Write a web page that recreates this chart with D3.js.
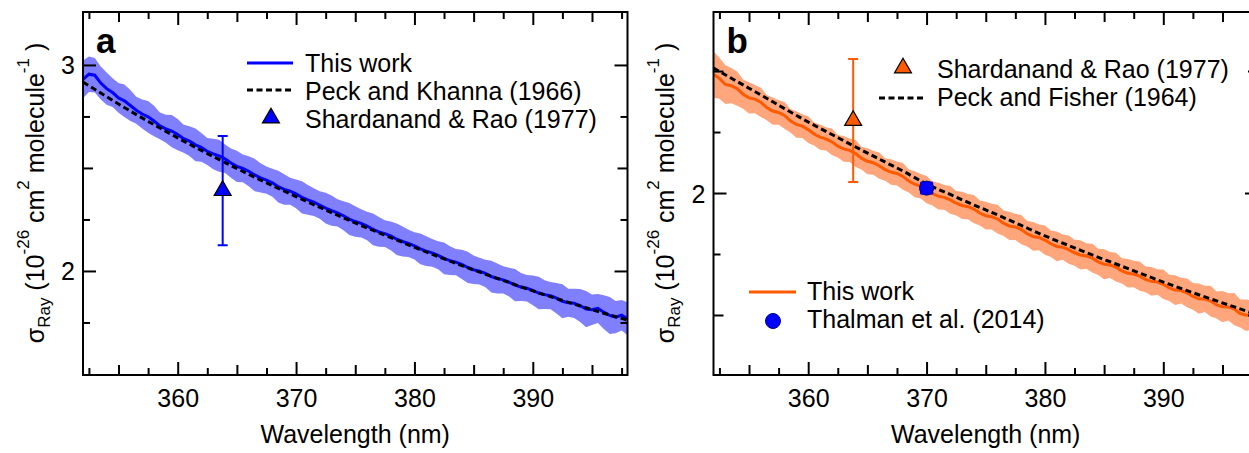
<!DOCTYPE html>
<meta charset="utf-8">
<title>Rayleigh scattering cross sections</title>
<script src="https://d3js.org/d3.v7.min.js"></script>
<style>
  body { margin: 0; background: #fff; }
  text { font-family: "Liberation Sans", Arial, sans-serif; fill: #000; }
</style>
<body>
<div id="chart"></div>
<script>

// wavelength grid of the measured spectra (nm)
var wl = [352,352.5,353,353.5,354,354.5,355,355.5,356,356.5,357,357.5,358,358.5,359,359.5,
          360,360.5,361,361.5,362,362.5,363,363.5,364,364.5,365,365.5,366,366.5,367,367.5,
          368,368.5,369,369.5,370,370.5,371,371.5,372,372.5,373,373.5,374,374.5,375,375.5,
          376,376.5,377,377.5,378,378.5,379,379.5,380,380.5,381,381.5,382,382.5,383,383.5,
          384,384.5,385,385.5,386,386.5,387,387.5,388,388.5,389,389.5,390,390.5,391,391.5,
          392,392.5,393,393.5,394,394.5,395,395.5,396,396.5,397,397.5,398];
// wavelength grid of the literature curves (nm)
var wlRef = [352,354,356,358,360,362,364,366,368,370,372,374,376,378,380,382,384,386,388,390,392,394,396,398];

// panel a: this work (blue) and its uncertainty
var aWork = [2.930,2.955,2.950,2.912,2.885,2.866,2.840,2.826,2.803,2.780,2.762,2.748,2.728,2.704,2.690,2.679,
             2.662,2.642,2.630,2.612,2.600,2.580,2.568,2.559,2.545,2.524,2.508,2.498,2.484,2.466,2.452,2.441,
             2.428,2.409,2.396,2.387,2.374,2.357,2.345,2.334,2.320,2.305,2.293,2.282,2.268,2.252,2.240,2.231,
             2.218,2.202,2.190,2.181,2.170,2.154,2.143,2.134,2.122,2.107,2.096,2.088,2.076,2.061,2.050,2.043,
             2.032,2.017,2.006,1.999,1.988,1.973,1.963,1.957,1.946,1.931,1.922,1.916,1.906,1.893,1.885,1.880,
             1.868,1.853,1.846,1.843,1.832,1.815,1.812,1.818,1.800,1.784,1.776,1.785,1.768];
var aErr = [0.092,0.086,0.084,0.080,0.078,0.070,0.072,0.079,0.075,0.066,
            0.070,0.077,0.074,0.065,0.068,0.078,0.076,0.068,0.072,0.079,
            0.070,0.066,0.074,0.078,0.069,0.071,0.076,0.067,0.073,0.079,
            0.071,0.066,0.068,0.077,0.074,0.066,0.070,0.078,0.072,0.067,
            0.067,0.075,0.073,0.066,0.070,0.078,0.074,0.068,0.069,0.077,
            0.072,0.065,0.070,0.076,0.073,0.066,0.066,0.075,0.072,0.067,
            0.068,0.077,0.070,0.064,0.071,0.076,0.069,0.065,0.067,0.077,
            0.073,0.066,0.070,0.078,0.068,0.064,0.072,0.079,0.070,0.066,
            0.074,0.082,0.068,0.071,0.080,0.088,0.074,0.070,0.082,0.090,
            0.078,0.074,0.080];
// Peck and Khanna (1966)
var aRef = [2.917,2.846,2.776,2.710,2.646,2.585,2.526,2.469,2.414,2.361,2.309,2.258,
            2.209,2.162,2.115,2.070,2.026,1.984,1.944,1.903,1.866,1.830,1.795,1.762];
// Shardanand & Rao (1977): wavelength, value, error
var aShard = [{wl: 363.8, v: 2.39, e: 0.265}];

// panel b: this work (orange) and its uncertainty
var bWork = [2.486,2.470,2.445,2.440,2.428,2.405,2.390,2.385,2.372,2.350,2.336,2.330,2.318,2.296,2.281,2.274,
             2.260,2.242,2.229,2.222,2.210,2.192,2.181,2.175,2.162,2.143,2.130,2.124,2.112,2.096,2.086,2.080,
             2.068,2.049,2.036,2.028,2.014,1.998,1.987,1.982,1.972,1.958,1.949,1.944,1.934,1.918,1.907,1.903,
             1.893,1.876,1.865,1.861,1.850,1.833,1.822,1.818,1.807,1.792,1.781,1.778,1.768,1.755,1.746,1.742,
             1.733,1.718,1.708,1.705,1.696,1.681,1.671,1.668,1.659,1.646,1.638,1.635,1.626,1.611,1.602,1.600,
             1.591,1.576,1.567,1.566,1.557,1.541,1.534,1.533,1.524,1.506,1.499,1.500,1.490];
var bErr = [0.095,0.084,0.080,0.072,0.070,0.060,0.064,0.058,0.060,0.052,
            0.056,0.050,0.055,0.048,0.054,0.049,0.055,0.047,0.052,0.048,
            0.054,0.046,0.053,0.048,0.055,0.047,0.053,0.049,0.054,0.046,
            0.052,0.049,0.055,0.047,0.053,0.050,0.056,0.049,0.055,0.051,
            0.057,0.050,0.056,0.052,0.058,0.051,0.057,0.053,0.059,0.052,
            0.058,0.054,0.060,0.052,0.059,0.053,0.060,0.054,0.061,0.052,
            0.058,0.053,0.060,0.052,0.059,0.054,0.061,0.053,0.059,0.052,
            0.058,0.054,0.060,0.053,0.059,0.052,0.060,0.054,0.061,0.053,
            0.059,0.055,0.062,0.054,0.063,0.055,0.064,0.056,0.066,0.057,
            0.065,0.058,0.064];
// Peck and Fisher (1964)
var bRef = [2.512,2.457,2.402,2.346,2.291,2.240,2.189,2.139,2.090,2.037,1.994,1.951,
            1.910,1.867,1.824,1.785,1.746,1.709,1.672,1.635,1.600,1.566,1.533,1.500];
var bShard = [{wl: 363.8, v: 2.297, e: 0.252}];
// Thalman et al. (2014)
var bThal = [{wl: 370.0, v: 2.020, e: 0.024, ex: 0.5}];

// ticks
var xTicks = [352.5,355,357.5,360,362.5,365,367.5,370,372.5,375,377.5,380,382.5,385,387.5,390,392.5,395,397.5];
var xLabels = [360,370,380,390];
var aYTicks = [1.75,2,2.25,2.5,2.75,3];
var aYLabels = [2,3];
var bYTicks = [1.5,1.75,2,2.25,2.5];
var bYLabels = [2];

var W = 1249, H = 453, top_ = 12, bottom = 375;
var svg = d3.select("#chart").append("svg")
    .attr("width", W).attr("height", H);

function tickLen(v, big, half) {
  if (Math.abs(v / big - Math.round(v / big)) < 1e-6) return 13;
  if (Math.abs(v / half - Math.round(v / half)) < 1e-6) return 10;
  return 7;
}

function panel(p) {
  var x = d3.scaleLinear().domain([352, 398]).range([p.left, p.right]);
  var y = d3.scaleLinear().domain(p.ydom).range([bottom, top_]);
  var g = svg.append("g");

  g.append("clipPath").attr("id", "clip" + p.id)
    .append("rect").attr("x", p.left).attr("y", top_)
    .attr("width", p.right - p.left).attr("height", bottom - top_);

  var plot = g.append("g").attr("clip-path", "url(#clip" + p.id + ")");

  // uncertainty band
  var band = d3.area()
      .x(function(d, i) { return x(wl[i]); })
      .y0(function(d, i) { return y(d - p.err[i]); })
      .y1(function(d, i) { return y(d + p.err[i]); });
  plot.append("path").datum(p.work)
    .attr("d", band).attr("fill", p.bandColor).attr("stroke", "none");

  // this work
  var line = d3.line()
      .x(function(d, i) { return x(wl[i]); })
      .y(function(d) { return y(d); });
  plot.append("path").datum(p.work)
    .attr("d", line).attr("fill", "none")
    .attr("stroke", p.color).attr("stroke-width", 3);

  // literature refractive-index curve
  var refLine = d3.line()
      .x(function(d, i) { return x(wlRef[i]); })
      .y(function(d) { return y(d); })
      .curve(d3.curveMonotoneX);
  plot.append("path").datum(p.ref)
    .attr("d", refLine).attr("fill", "none")
    .attr("stroke", "#000").attr("stroke-width", 3)
    .attr("stroke-dasharray", "6,3.5");

  // Shardanand & Rao point with error bar
  p.shard.forEach(function(d) {
    var px = x(d.wl);
    plot.append("line").attr("x1", px).attr("x2", px)
      .attr("y1", y(d.v - d.e)).attr("y2", y(d.v + d.e))
      .attr("stroke", p.shardColor).attr("stroke-width", 2);
    [d.v - d.e, d.v + d.e].forEach(function(v) {
      plot.append("line").attr("x1", px - 5).attr("x2", px + 5)
        .attr("y1", y(v)).attr("y2", y(v))
        .attr("stroke", p.shardColor).attr("stroke-width", 2);
    });
    plot.append("path")
      .attr("d", d3.symbol().type(d3.symbolTriangle).size(125))
      .attr("transform", "translate(" + px + "," + y(d.v) + ")")
      .attr("fill", p.shardColor).attr("stroke", "#000").attr("stroke-width", 1.2);
  });

  // Thalman point, error bars drawn as a small box behind the circle
  (p.thal || []).forEach(function(d) {
    var px = x(d.wl), py = y(d.v);
    var x0 = x(d.wl - d.ex), x1 = x(d.wl + d.ex), y0 = y(d.v - d.e), y1 = y(d.v + d.e);
    plot.append("path")
      .attr("d", "M" + x0 + "," + y0 + "H" + x1 + "M" + x0 + "," + y1 + "H" + x1 +
                 "M" + x0 + "," + y0 + "V" + y1 + "M" + x1 + "," + y0 + "V" + y1)
      .attr("stroke", "#0000ff").attr("stroke-width", 1.5).attr("fill", "none");
    plot.append("circle").attr("cx", px).attr("cy", py).attr("r", 7)
      .attr("fill", "#0000ff").attr("stroke", "#00007a").attr("stroke-width", 1);
  });

  // axes, ticks pointing inside on all four sides
  var fmtX = function(d) { return xLabels.indexOf(d) >= 0 ? d : ""; };
  var fmtY = function(d) { return p.yLabels.indexOf(d) >= 0 ? d : ""; };

  var xb = g.append("g").attr("transform", "translate(0," + bottom + ")")
    .call(d3.axisBottom(x).tickValues(xTicks).tickFormat(fmtX).tickSizeOuter(0).tickPadding(0));
  xb.selectAll(".tick line").attr("y2", function(d) { return -tickLen(d, 10, 5); });
  xb.selectAll(".tick text").attr("y", 32).attr("dy", 0);

  var xt = g.append("g").attr("transform", "translate(0," + top_ + ")")
    .call(d3.axisTop(x).tickValues(xTicks).tickFormat("").tickSizeOuter(0));
  xt.selectAll(".tick line").attr("y2", function(d) { return tickLen(d, 10, 5); });

  var yl = g.append("g").attr("transform", "translate(" + p.left + ",0)")
    .call(d3.axisLeft(y).tickValues(p.yTicks).tickFormat(fmtY).tickSizeOuter(0));
  yl.selectAll(".tick line").attr("x2", function(d) { return tickLen(d, 1, 0.5); });
  yl.selectAll(".tick text").attr("x", -8).attr("dy", "0.36em");

  var yr = g.append("g").attr("transform", "translate(" + p.right + ",0)")
    .call(d3.axisRight(y).tickValues(p.yTicks).tickFormat("").tickSizeOuter(0));
  yr.selectAll(".tick line").attr("x2", function(d) { return -tickLen(d, 1, 0.5); });

  g.selectAll(".domain").remove();
  g.selectAll(".tick line").attr("stroke", "#000").attr("stroke-width", 2);
  g.selectAll(".tick text").attr("font-size", 25)
    .attr("font-family", "'Liberation Sans', Arial, sans-serif").attr("fill", "#000");

  g.append("rect").attr("x", p.left).attr("y", top_)
    .attr("width", p.right - p.left).attr("height", bottom - top_)
    .attr("fill", "none").attr("stroke", "#000").attr("stroke-width", 2);

  // axis titles
  g.append("text")
    .attr("x", (p.left + p.right) / 2)
    .attr("y", 443).attr("text-anchor", "middle").attr("font-size", 25)
    .text("Wavelength (nm)");

  var yt = g.append("text")
    .attr("transform", "translate(" + p.ytx + ",193) rotate(-90)")
    .attr("text-anchor", "middle").attr("font-size", 25);
  yt.append("tspan").text("\u03c3");
  yt.append("tspan").attr("font-size", 17).attr("dy", 6).text("Ray");
  yt.append("tspan").attr("dy", -6).text(" (10");
  yt.append("tspan").attr("font-size", 17).attr("dy", -15).text("-26");
  yt.append("tspan").attr("dy", 15).text(" cm");
  yt.append("tspan").attr("font-size", 17).attr("dy", -15).text("2");
  yt.append("tspan").attr("dy", 15).text(" molecule");
  yt.append("tspan").attr("font-size", 17).attr("dy", -15).text("-1");
  yt.append("tspan").attr("dy", 15).text(" )");

  // panel letter
  g.append("text").attr("x", p.left + 13).attr("y", 53)
    .attr("font-size", 35).attr("font-weight", "bold").text(p.id);

  return g;
}

function legendLine(g, x0, x1, yy, color, dashed) {
  g.append("line").attr("x1", x0).attr("x2", x1).attr("y1", yy).attr("y2", yy)
    .attr("stroke", color).attr("stroke-width", 3)
    .attr("stroke-dasharray", dashed ? "6,3.5" : null);
}
function legendText(g, xx, yy, s) {
  g.append("text").attr("x", xx).attr("y", yy).attr("font-size", 25).text(s);
}
function legendTri(g, xx, yy, color) {
  g.append("path").attr("d", d3.symbol().type(d3.symbolTriangle).size(125))
    .attr("transform", "translate(" + xx + "," + yy + ")")
    .attr("fill", color).attr("stroke", "#000").attr("stroke-width", 1.2);
}

var ga = panel({
  id: "a", left: 83, right: 627.5, ydom: [1.495, 3.257],
  work: aWork, err: aErr, ref: aRef, shard: aShard,
  color: "#0000ff", bandColor: "#8080ff", shardColor: "#0000ff",
  yTicks: aYTicks, yLabels: aYLabels, ytx: 44
});
legendLine(ga, 247, 293, 63, "#0000ff", false);
legendText(ga, 305, 72, "This work");
legendLine(ga, 247, 293, 90, "#000", true);
legendText(ga, 305, 100, "Peck and Khanna (1966)");
legendTri(ga, 271, 118, "#0000ff");
legendText(ga, 305, 128, "Shardanand & Rao (1977)");

var gb = panel({
  id: "b", left: 713.5, right: 1258, ydom: [1.254, 2.742],
  work: bWork, err: bErr, ref: bRef, shard: bShard, thal: bThal,
  color: "#ff5a00", bandColor: "#ffa67c", shardColor: "#ff5a00",
  yTicks: bYTicks, yLabels: bYLabels, ytx: 674
});
legendTri(gb, 903, 68, "#ff5a00");
legendText(gb, 937, 78, "Shardanand & Rao (1977)");
legendLine(gb, 879, 923, 98, "#000", true);
legendText(gb, 937, 106, "Peck and Fisher (1964)");
legendLine(gb, 749, 796, 292, "#ff5a00", false);
legendText(gb, 807, 300, "This work");
gb.append("circle").attr("cx", 773).attr("cy", 321).attr("r", 7.5)
  .attr("fill", "#0000ff").attr("stroke", "#00007a").attr("stroke-width", 1);
legendText(gb, 807, 328, "Thalman et al. (2014)");

</script>
</body>
